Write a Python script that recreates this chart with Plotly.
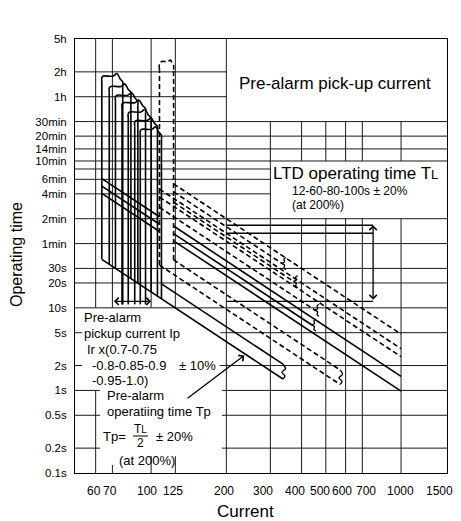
import math
import plotly.graph_objects as go

# ---------------- data ----------------
current_ticks = [60, 70, 100, 125, 200, 300, 400, 500, 600, 700, 1000, 1500]
current_labels = [str(v) for v in current_ticks]
time_ticks = [0.1, 0.2, 0.5, 1, 2, 5, 10, 20, 30, 60, 120, 240, 360, 600, 840,
              1200, 1800, 3600, 7200, 18000]
time_labels = ["0.1s", "0.2s", "0.5s", "1s", "2s", "5s", "10s", "20s", "30s", "1min",
               "2min", "4min", "6min", "10min", "14min", "20min", "30min", "1h", "2h", "5h"]

# pre-alarm pick-up bands (Ir x 0.7 ... 1.0, +-10 %), current in % and top time in s
pa_pick_low = [63.5, 68, 72, 76.5, 81, 86, 90.5]
pa_pick_high = [77, 83, 88.5, 95, 100, 106, 110]
pa_pick_top = [6400, 4800, 3750, 3050, 2350, 1850, 1450]
pa_setting_marks = [76.5, 81, 86, 90.5, 95]
ip_arrow_range = [70, 100]
ip_arrow_time = 12
ip_mark_bottom = 11

# LTD pick-up band (dashed)
ltd_pick_low = 108
ltd_pick_high = 123
ltd_pick_top = 9600

# pre-alarm operating-time lines: time at 200 %, first and last current
pa_t200 = [37, 30, 24.5, 5.9, 3.9]
pa_from = [63.5, 63.5, 63.5, 110, 63.5]
pa_to = [1000, 440, 1000, 337, 337]
pa_caps = [(3, 4)]

# LTD operating-time lines (dashed)
ltd_t200 = [120, 96, 80, 72, 64, 48, 14.4, 9.6]
ltd_from = [123, 123, 108, 123, 108, 108, 123, 108]
ltd_to = [1000, 334, 1000, 372, 1000, 453, 570, 570]
ltd_caps = [(6, 7)]

# LTD setting marks at 200 %
tl_marks = [100, 80, 12]
tl_mark_from, tl_mark_to = 200, 773

# arrow to the pre-alarm time line
tp_arrow_tail = (138, 0.78)
tp_arrow_head = (236, 2.65)

# ---------------- layout constants ----------------
FONT = "Liberation Sans, Arial, Helvetica, sans-serif"
PAGE_OFFSET = 8                      # default body margin of the html page
FIG_W, FIG_H = 461 - PAGE_OFFSET, 521 - PAGE_OFFSET
X_MIN, X_MAX = 49.6, 1527.0
Y_MIN, Y_MAX = 0.1, 18000.0
PLOT_L, PLOT_T, PLOT_W, PLOT_H = 75, 39, 372, 434   # in screenshot pixels
LX0, LX1 = math.log10(X_MIN), math.log10(X_MAX)
LY0, LY1 = math.log10(Y_MIN), math.log10(Y_MAX)
PXX = (LX1 - LX0) / PLOT_W
PXY = (LY1 - LY0) / PLOT_H
# small horizontal nudges of the current labels, as printed in the original
X_LABEL_SHIFT = [-2, -2, -4, -2, -2, -7, -7, -6, -4, 4, -1, -6]


def lg(v):
    return math.log10(v)


def t_at(t200, cur):
    return t200 * (200.0 / cur) ** 2


def paper_x(px):
    return (px - PLOT_L) / PLOT_W


def paper_y(py):
    return (PLOT_T + PLOT_H - py) / PLOT_H


fig = go.Figure()


def add_path(xs, ys, dash="solid", width=1.6, spline=False, color="black"):
    line = dict(color=color, width=width, dash=dash)
    if spline:
        line["shape"] = "spline"
        line["smoothing"] = 1.0
    fig.add_trace(go.Scatter(x=xs, y=ys, mode="lines", line=line, hoverinfo="skip"))


def add_log_path(lxs, lys, **kw):
    add_path([10 ** a for a in lxs], [10 ** b for b in lys], **kw)


def end_squiggle(cur, t):
    lx, ly = lg(cur), lg(t)
    pts = [(4.0, 6), (2.0, 4.5), (2.5, 1.5), (0, 0), (2.5, -1.5), (2.0, -4.5), (4.0, -6)]
    add_log_path([lx + dx * PXX for dx, _ in pts], [ly + dy * PXY for _, dy in pts],
                 spline=True, width=1.3)


def band_cap(cur, t_up, t_low):
    lx, lu, ll = lg(cur), lg(t_up), lg(t_low)
    h = lu - ll
    pts = [(0, 0), (2.5, 0.3), (-1.0, 0.55), (2.0, 0.8), (0, 1.0)]
    add_log_path([lx + dx * PXX for dx, _ in pts], [lu - f * h for _, f in pts],
                 spline=True, width=1.4)


# ---------------- grid ----------------
full = (X_MIN, X_MAX)
h_grid = [(7200, X_MIN, 200), (3600, X_MIN, 200),
          (1800,) + full, (1200,) + full, (840,) + full, (600,) + full,
          (480, X_MIN, 300), (360, X_MIN, 300), (240, X_MIN, 300),
          (120,) + full, (60,) + full, (30,) + full, (20,) + full, (10,) + full,
          (5, X_MIN, 53), (5, 189, X_MAX), (2, X_MIN, 53), (2, 188, X_MAX),
          (1, X_MIN, 62.5), (1, 192, X_MAX), (0.5, X_MIN, 62.5), (0.5, 192, X_MAX),
          (0.2, X_MIN, 62.5), (0.2, 192, X_MAX)]
v_grid = [(60, 10, Y_MAX), (60, Y_MIN, 1), (70, 10, Y_MAX), (70, Y_MIN, 0.125),
          (100, 10, Y_MAX), (100, Y_MIN, 0.16), (125, 10, Y_MAX), (125, Y_MIN, 0.16),
          (200, Y_MIN, Y_MAX), (300, Y_MIN, 1800)]
for c in [400, 500, 600, 700, 1000]:
    v_grid += [(c, 600, 1800), (c, Y_MIN, 120)]

gx, gy = [], []
for t, a, b in h_grid:
    gx += [a, b, None]
    gy += [t, t, None]
for c, a, b in v_grid:
    gx += [c, c, None]
    gy += [a, b, None]
fig.add_trace(go.Scatter(x=gx, y=gy, mode="lines", line=dict(color="#1a1a1a", width=1),
                         hoverinfo="skip", connectgaps=False))

# ---------------- pre-alarm pick-up hooks ----------------
floor_t200 = pa_t200[4]


def is_mark(cur):
    return any(abs(cur - m) < 0.6 for m in pa_setting_marks)


for L, R, T in zip(pa_pick_low, pa_pick_high, pa_pick_top):
    lL, lR, lT = lg(L), lg(R), lg(T)
    w = lR - lL
    xs = [lL, lL, lL + 1.5 * PXX, lL + 0.55 * w, lL + 0.72 * w, lL + 0.88 * w, lR, lR]
    ys = [lT - 6 * PXY, lT - 1.5 * PXY, lT, lT, lT + 2.5 * PXY, lT - 3 * PXY,
          lT - 6 * PXY, lT - 10 * PXY]
    add_log_path(xs, ys, spline=True)
    bl = ip_mark_bottom if is_mark(L) else t_at(floor_t200, L)
    br = ip_mark_bottom if is_mark(R) else t_at(floor_t200, R)
    add_path([L, L], [bl, 10 ** (lT - 6 * PXY)])
    add_path([R, R], [br, 10 ** (lT - 10 * PXY)])

# ---------------- LTD pick-up hook (dashed) ----------------
lLo, lHi, lTop = lg(ltd_pick_low), lg(ltd_pick_high), lg(ltd_pick_top)
ws = lHi - lLo
add_log_path([lLo, lLo, lLo + 2 * PXX, lLo + 0.6 * ws, lLo + 0.78 * ws, lLo + 0.9 * ws, lHi, lHi],
             [lTop - 8 * PXY, lTop - 2 * PXY, lTop, lTop, lTop + 1.5 * PXY, lTop - 2 * PXY,
              lTop - 4 * PXY, lTop - 8 * PXY],
             spline=True, dash="5px,3px")
ltd_left_bottom = min(t_at(t, ltd_pick_low) for t, f in zip(ltd_t200, ltd_from) if f == ltd_pick_low)
ltd_right_bottom = min(t_at(t, ltd_pick_high) for t, f in zip(ltd_t200, ltd_from) if f == ltd_pick_high)
add_path([ltd_pick_low, ltd_pick_low], [ltd_left_bottom, 10 ** (lTop - 8 * PXY)], dash="5px,3px")
add_path([ltd_pick_high, ltd_pick_high], [ltd_right_bottom, 10 ** (lTop - 8 * PXY)], dash="5px,3px")

# ---------------- operating-time lines ----------------
pa_capped = {i for pair in pa_caps for i in pair}
for i, (t2, a, b) in enumerate(zip(pa_t200, pa_from, pa_to)):
    if a < ltd_pick_low and t_at(t2, ltd_pick_low) > ltd_left_bottom:
        segs = [(a, ltd_pick_low), (ltd_pick_high, b)]
    else:
        segs = [(a, b)]
    for s0, s1 in segs:
        add_path([s0, s1], [t_at(t2, s0), t_at(t2, s1)])
    if b < 1000 and i not in pa_capped:
        end_squiggle(b, t_at(t2, b))
for iu, il in pa_caps:
    band_cap(pa_to[iu], t_at(pa_t200[iu], pa_to[iu]), t_at(pa_t200[il], pa_to[il]))

ltd_capped = {i for pair in ltd_caps for i in pair}
for i, (t2, a, b) in enumerate(zip(ltd_t200, ltd_from, ltd_to)):
    add_path([a, b], [t_at(t2, a), t_at(t2, b)], dash="5px,3px")
    if b < 1000 and i not in ltd_capped:
        end_squiggle(b, t_at(t2, b))
for iu, il in ltd_caps:
    band_cap(ltd_to[iu], t_at(ltd_t200[iu], ltd_to[iu]), t_at(ltd_t200[il], ltd_to[il]))

# LTD setting marks at 200 %
for t in tl_marks:
    add_path([tl_mark_from, tl_mark_to], [t, t], width=1.3)

# ---------------- arrows ----------------
arrow_common = dict(xref="x", yref="y", axref="x", ayref="y", text="", showarrow=True,
                    arrowcolor="black", arrowwidth=1.3, arrowsize=1.1, standoff=0)
fig.add_annotation(x=lg(tl_mark_to), y=lg(max(tl_marks)), ax=lg(tl_mark_to), ay=lg(min(tl_marks)),
                   arrowhead=4, startarrowhead=4, arrowside="end+start", **arrow_common)
fig.add_annotation(x=lg(ip_arrow_range[1]), y=lg(ip_arrow_time), ax=lg(ip_arrow_range[0]),
                   ay=lg(ip_arrow_time), arrowhead=4, startarrowhead=4, arrowside="end+start",
                   **arrow_common)
fig.add_annotation(x=lg(tp_arrow_head[0]), y=lg(tp_arrow_head[1]), ax=lg(tp_arrow_tail[0]),
                   ay=lg(tp_arrow_tail[1]), arrowhead=4, arrowside="end", **arrow_common)


# ---------------- texts ----------------
def text_px(text, px, py, size, xanchor="left", yanchor="middle", textangle=0):
    fig.add_annotation(x=paper_x(px), y=paper_y(py), xref="paper", yref="paper", text=text,
                       showarrow=False, xanchor=xanchor, yanchor=yanchor, textangle=textangle,
                       font=dict(size=size, family=FONT, color="black"), borderpad=0)


text_px("Pre-alarm pick-up current", 335, 83, 17, xanchor="center")
text_px("LTD operating time T<span style='font-size:13px'>L</span>", 272, 173, 17)
text_px("12-60-80-100s \u00b1 20%", 291, 191, 12)
text_px("(at 200%)", 291, 204.5, 12)

text_px("Pre-alarm", 83, 317, 13)
text_px("pickup current Ip", 83, 333.5, 13)
text_px("Ir x(0.7-0.75", 86, 349.5, 13)
text_px("-0.8-0.85-0.9", 91, 365, 13)
text_px("\u00b1 10%", 178, 365, 13)
text_px("-0.95-1.0)", 91, 380, 13)
text_px("Pre-alarm", 106, 395, 13)
text_px("operatiing time Tp", 106, 411, 13)
text_px("Tp=", 102, 436, 13)
text_px("T<span style='font-size:10px'>L</span>", 140, 429, 12, xanchor="center")
text_px("2", 140, 443, 12, xanchor="center")
text_px("\u00b1 20%", 155, 436, 13)
text_px("(at 200%)", 118, 460, 13)

fig.add_shape(type="line", xref="paper", yref="paper", x0=paper_x(133), x1=paper_x(148),
              y0=paper_y(436), y1=paper_y(436), line=dict(color="black", width=1))

text_px("Current", 245, 511, 17, xanchor="center")
text_px("Operating time", 17, 255, 16, xanchor="center", textangle=-90)

# current tick labels placed on the x scale (slightly nudged like the original print)
for v, lab, s in zip(current_ticks, current_labels, X_LABEL_SHIFT):
    fig.add_annotation(x=lg(v), y=0, xref="x", yref="paper", text=lab, showarrow=False,
                       xanchor="center", yanchor="middle", xshift=s, yshift=-18,
                       font=dict(size=12, family=FONT, color="black"), borderpad=0)

# ---------------- layout ----------------
axis_common = dict(type="log", showgrid=False, zeroline=False, showline=True, mirror=True,
                   linecolor="black", linewidth=1, ticks="", automargin=False, tickangle=0)
m_l = PLOT_L - PAGE_OFFSET
m_t = PLOT_T - PAGE_OFFSET
fig.update_layout(
    width=FIG_W, height=FIG_H,
    margin=dict(l=m_l, r=FIG_W - m_l - PLOT_W, t=m_t, b=FIG_H - m_t - PLOT_H, autoexpand=False),
    plot_bgcolor="white", paper_bgcolor="white", showlegend=False,
    font=dict(family=FONT, size=12, color="black"),
    xaxis=dict(range=[LX0, LX1], tickvals=current_ticks, showticklabels=False, **axis_common),
    yaxis=dict(range=[LY0, LY1], tickvals=time_ticks, ticktext=time_labels,
               ticklabelstandoff=5, tickfont=dict(size=11.5, family=FONT, color="black"),
               **axis_common),
)

fig.write_html(
    "out.html",
    post_script="document.documentElement.style.overflow='hidden';"
                "document.body.style.overflow='hidden';",
)
